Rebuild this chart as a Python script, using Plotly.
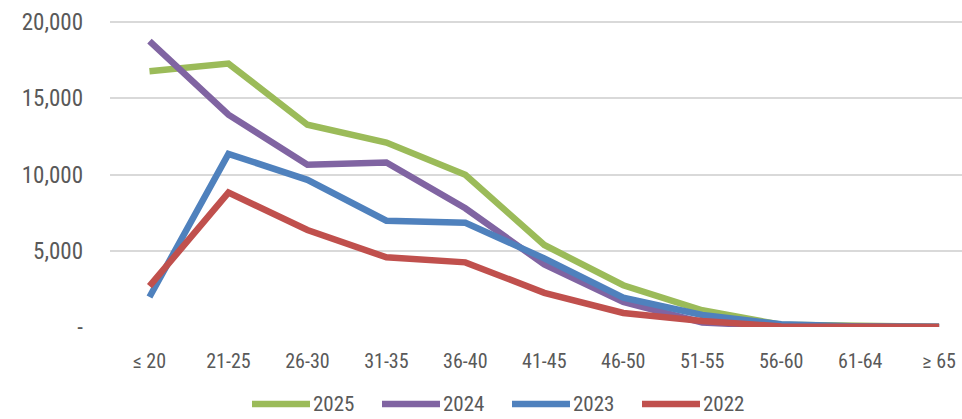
import plotly.graph_objects as go

# Age bands on the category axis
age_bands = ["≤ 20", "21-25", "26-30", "31-35", "36-40", "41-45",
             "46-50", "51-55", "56-60", "61-64", "≥ 65"]

# Counts per age band for each year
y2025 = [16780, 17280, 13270, 12100, 9980, 5380, 2740, 1100, 150, 30, 10]
y2024 = [18750, 13930, 10640, 10790, 7790, 4100, 1640, 300, 40, 10, 5]
y2023 = [1970, 11360, 9650, 6970, 6840, 4500, 1930, 790, 180, 40, 10]
y2022 = [2680, 8820, 6360, 4570, 4240, 2240, 920, 400, 40, 10, 5]

years = ["2025", "2024", "2023", "2022"]
series = [y2025, y2024, y2023, y2022]
colors = ["#9BBB59", "#8064A2", "#4F81BD", "#C0504D"]

y_ticks = [0, 5000, 10000, 15000, 20000]
y_tick_text = ["-", "5,000", "10,000", "15,000", "20,000"]

NARROW = "Liberation Sans Narrow, Arial Narrow, Roboto Condensed, sans-serif"
TEXT = "#595959"

W, H = 962, 419
left, right, top, bottom = 110, 0, 16, 92
plot_w = W - left - right
plot_h = H - top - bottom


def px_to_paper(px, py):
    """Convert page pixel position to paper coordinates of the plot area."""
    return (px - left) / plot_w, (H - bottom - py) / plot_h


fig = go.Figure()
for name, vals, col in zip(years, series, colors):
    fig.add_trace(go.Scatter(
        x=age_bands, y=vals, name=name, mode="lines",
        line=dict(color=col, width=6.5),
        showlegend=False,
    ))

# Legend drawn below the chart: a thick swatch followed by the year
leg_x0 = 252
leg_step = 130
leg_y = 404
for i, (name, col) in enumerate(zip(years, colors)):
    x0 = leg_x0 + i * leg_step
    ax0, ay = px_to_paper(x0, leg_y)
    ax1, _ = px_to_paper(x0 + 58, leg_y)
    tx, _ = px_to_paper(x0 + 60, leg_y)
    fig.add_shape(type="line", xref="paper", yref="paper",
                  x0=ax0, x1=ax1, y0=ay, y1=ay,
                  line=dict(color=col, width=6.5))
    fig.add_annotation(xref="paper", yref="paper",
                       x=tx, y=ay, borderpad=0,
                       xanchor="left", yanchor="middle", showarrow=False,
                       text=name, font=dict(family=NARROW, size=21, color=TEXT))

fig.update_layout(
    width=W, height=H,
    margin=dict(l=left, r=right, t=top, b=bottom),
    paper_bgcolor="white", plot_bgcolor="white",
    xaxis=dict(
        type="category", range=[-0.5, 10.29],
        showgrid=False, showline=False, zeroline=False,
        tickfont=dict(family=NARROW, size=20, color=TEXT),
        ticks="", ticklabelstandoff=20,
    ),
    yaxis=dict(
        range=[0, 20400], tickvals=y_ticks, ticktext=y_tick_text,
        showgrid=True, gridcolor="#D9D9D9", gridwidth=1.5,
        zeroline=False, showline=False,
        tickfont=dict(family=NARROW, size=23, color=TEXT),
        ticks="", ticklabelstandoff=26,
    ),
)

fig.write_html("out.html")
